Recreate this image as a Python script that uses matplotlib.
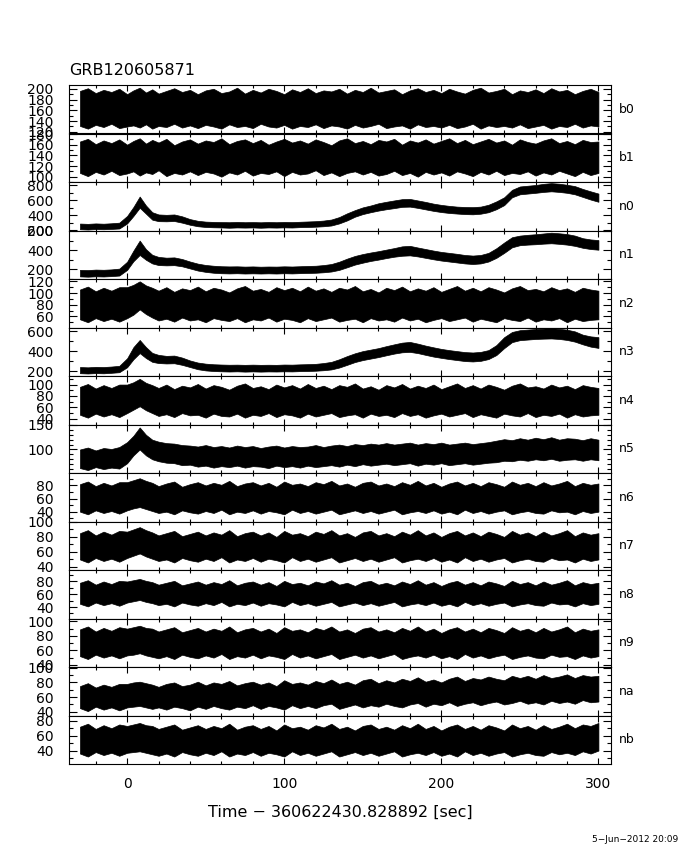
import matplotlib
matplotlib.use("Agg")
import matplotlib.pyplot as plt
from matplotlib.ticker import MultipleLocator

T = [-30, -25, -20, -15, -10, -5, 0, 4, 8, 12,
     16, 20, 25, 30, 35, 40, 45, 50, 55, 60,
     65, 70, 75, 80, 85, 90, 95, 100, 105, 110,
     115, 120, 125, 130, 135, 140, 145, 150, 155, 160,
     165, 170, 175, 180, 185, 190, 195, 200, 205, 210,
     215, 220, 225, 230, 235, 240, 245, 250, 255, 260,
     265, 270, 275, 280, 285, 290, 295, 300]

detectors = ['b0', 'b1', 'n0', 'n1', 'n2', 'n3', 'n4', 'n5', 'n6', 'n7', 'n8', 'n9', 'na', 'nb']

# lower / upper edge of the black count-rate band for each detector
b0_lo = [131, 126, 133, 129, 135, 127, 130, 132, 128, 134,
         126, 131, 129, 135, 128, 132, 127, 133, 130, 126,
         134, 129, 131, 127, 135, 130, 128, 133, 126, 131,
         129, 134, 127, 132, 130, 126, 133, 128, 131, 135,
         127, 130, 132, 126, 134, 129, 131, 128, 133, 127,
         130, 135, 126, 132, 129, 131, 128, 134, 127, 130,
         133, 126, 131, 129, 135, 128, 132, 130]
b0_hi = [196, 201, 192, 198, 194, 200, 190, 197, 202, 193,
         199, 191, 196, 201, 194, 198, 190, 197, 200, 192,
         195, 202, 191, 198, 193, 200, 196, 190, 199, 194,
         201, 192, 197, 195, 200, 191, 198, 194, 202, 193,
         196, 199, 190, 197, 201, 194, 198, 192, 200, 195,
         191, 198, 202, 193, 196, 200, 190, 197, 194, 199,
         192, 201, 195, 198, 190, 196, 200, 194]
b1_lo = [107, 101, 109, 104, 111, 103, 106, 110, 102, 108,
         105, 112, 101, 107, 104, 110, 103, 109, 106, 100,
         108, 104, 111, 102, 107, 105, 110, 101, 109, 104,
         106, 112, 103, 108, 101, 107, 110, 104, 109, 102,
         105, 111, 103, 107, 100, 109, 104, 108, 102, 110,
         106, 101, 109, 104, 111, 103, 107, 105, 110, 102,
         108, 104, 111, 106, 101, 109, 103, 107]
b1_hi = [166, 171, 161, 168, 163, 170, 160, 167, 172, 162,
         169, 164, 171, 159, 166, 170, 162, 168, 165, 172,
         161, 167, 170, 163, 169, 160, 166, 171, 164, 168,
         162, 170, 165, 159, 168, 172, 163, 167, 161, 169,
         166, 171, 160, 168, 164, 170, 162, 167, 172, 163,
         169, 161, 166, 171, 164, 168, 160, 170, 165, 162,
         168, 172, 163, 167, 161, 169, 165, 166]
n0_lo = [212, 208, 214, 212, 216, 222, 290, 390, 500, 420,
         340, 320, 318, 322, 300, 272, 252, 242, 238, 236,
         232, 236, 234, 236, 232, 236, 234, 237, 235, 240,
         242, 246, 252, 262, 290, 330, 380, 415, 440, 462,
         480, 495, 512, 515, 498, 478, 458, 442, 430, 422,
         415, 412, 420, 440, 480, 535, 640, 680, 690, 700,
         712, 720, 712, 700, 680, 645, 610, 580]
n0_hi = [288, 284, 290, 286, 292, 300, 390, 510, 650, 530,
         440, 410, 405, 410, 385, 348, 325, 314, 310, 308,
         306, 310, 306, 308, 305, 309, 306, 310, 308, 312,
         316, 320, 328, 342, 375, 425, 468, 505, 530, 560,
         580, 598, 615, 618, 598, 578, 555, 538, 525, 515,
         510, 508, 515, 540, 585, 640, 740, 785, 795, 805,
         820, 830, 822, 808, 790, 752, 720, 690]
n1_lo = [127, 124, 128, 126, 130, 136, 195, 285, 350, 300,
         262, 245, 242, 244, 232, 210, 188, 174, 165, 160,
         158, 160, 157, 159, 157, 159, 157, 160, 158, 161,
         163, 165, 170, 178, 195, 222, 250, 270, 288, 302,
         318, 332, 342, 346, 335, 320, 305, 292, 282, 272,
         262, 256, 262, 282, 320, 372, 430, 452, 458, 462,
         468, 472, 466, 458, 445, 425, 412, 405]
n1_hi = [195, 193, 198, 196, 200, 208, 280, 395, 500, 410,
         352, 330, 322, 325, 308, 282, 260, 246, 238, 233,
         231, 232, 229, 231, 228, 230, 229, 232, 230, 233,
         236, 238, 245, 256, 280, 312, 340, 360, 376, 390,
         406, 422, 440, 445, 428, 412, 396, 382, 372, 362,
         350, 344, 350, 372, 420, 480, 535, 552, 560, 566,
         574, 582, 576, 568, 552, 525, 512, 505]
n2_lo = [55, 50, 57, 52, 56, 51, 57, 63, 72, 64,
         58, 53, 56, 51, 58, 53, 55, 50, 57, 54,
         52, 57, 50, 55, 53, 58, 51, 56, 54, 50,
         57, 52, 55, 58, 51, 54, 56, 50, 57, 53,
         55, 51, 58, 53, 56, 50, 54, 57, 52, 55,
         58, 51, 56, 53, 50, 57, 54, 52, 58, 51,
         55, 53, 57, 50, 56, 52, 54, 55]
n2_hi = [106, 111, 103, 109, 104, 110, 110, 114, 120, 113,
         109, 104, 110, 102, 108, 105, 111, 103, 109, 106,
         101, 108, 112, 104, 107, 102, 110, 105, 109, 103,
         111, 104, 108, 102, 109, 106, 112, 103, 107, 101,
         109, 105, 111, 103, 108, 104, 110, 102, 107, 112,
         104, 109, 103, 110, 106, 101, 108, 112, 105, 107,
         103, 110, 105, 108, 102, 109, 106, 104]
n3_lo = [178, 175, 179, 177, 182, 188, 238, 318, 380, 330,
         292, 280, 276, 278, 262, 240, 218, 206, 200, 197,
         195, 197, 194, 196, 194, 196, 195, 197, 196, 199,
         200, 203, 208, 216, 235, 262, 290, 310, 325, 340,
         358, 375, 388, 392, 380, 362, 345, 332, 320, 310,
         300, 296, 302, 320, 360, 430, 490, 510, 516, 522,
         525, 527, 522, 512, 495, 468, 445, 432]
n3_hi = [240, 237, 242, 240, 245, 252, 328, 440, 512, 440,
         382, 362, 352, 355, 335, 306, 285, 274, 268, 265,
         263, 264, 262, 264, 262, 263, 262, 265, 264, 267,
         269, 272, 280, 292, 318, 350, 378, 400, 415, 430,
         450, 468, 485, 492, 475, 455, 438, 422, 410, 400,
         390, 386, 392, 410, 460, 540, 592, 610, 616, 622,
         626, 630, 624, 615, 598, 565, 548, 540]
n4_lo = [47, 42, 49, 44, 48, 43, 50, 56, 62, 55,
         50, 45, 48, 43, 50, 46, 47, 42, 49, 45,
         44, 49, 42, 47, 45, 50, 43, 48, 46, 42,
         49, 44, 47, 50, 43, 46, 48, 42, 49, 45,
         47, 43, 50, 45, 48, 42, 46, 49, 44, 47,
         50, 43, 48, 45, 42, 49, 46, 44, 50, 43,
         47, 45, 49, 42, 48, 44, 46, 47]
n4_hi = [96, 101, 93, 99, 94, 100, 100, 104, 110, 103,
         99, 94, 100, 92, 98, 95, 101, 93, 99, 96,
         91, 98, 102, 94, 97, 92, 100, 95, 99, 93,
         101, 94, 98, 92, 99, 96, 102, 93, 97, 91,
         99, 95, 101, 93, 98, 94, 100, 92, 97, 102,
         94, 99, 93, 100, 96, 91, 98, 102, 95, 97,
         93, 100, 95, 98, 92, 99, 96, 94]
n5_lo = [62, 58, 64, 60, 63, 61, 72, 88, 100, 88,
         80, 76, 73, 72, 68, 69, 65, 67, 63, 66,
         64, 67, 63, 66, 65, 62, 67, 64, 66, 63,
         67, 64, 66, 68, 65, 69, 66, 70, 67, 69,
         71, 68, 70, 72, 67, 71, 69, 72, 68, 70,
         72, 69, 71, 73, 74, 77, 76, 79, 77, 80,
         78, 81, 77, 79, 80, 77, 80, 78]
n5_hi = [100, 104, 98, 103, 101, 105, 115, 128, 145, 130,
         120, 116, 113, 112, 109, 108, 106, 109, 105, 107,
         104, 108, 105, 107, 103, 106, 108, 104, 107, 105,
         106, 109, 105, 108, 110, 107, 111, 109, 112, 110,
         113, 110, 112, 114, 110, 113, 111, 114, 110, 112,
         114, 111, 113, 115, 118, 121, 119, 123, 120, 124,
         121, 125, 120, 123, 122, 119, 123, 120]
n6_lo = [40, 36, 42, 38, 41, 37, 42, 45, 47, 44,
         41, 38, 40, 36, 42, 39, 37, 41, 38, 43,
         36, 40, 38, 42, 37, 41, 39, 36, 43, 38,
         41, 37, 40, 43, 36, 39, 42, 38, 41, 37,
         40, 43, 36, 39, 41, 38, 42, 37, 40, 36,
         43, 38, 41, 37, 40, 42, 36, 39, 41, 38,
         37, 42, 39, 40, 36, 41, 38, 40]
n6_hi = [82, 86, 79, 84, 80, 85, 85, 88, 91, 87,
         84, 79, 83, 86, 78, 82, 85, 80, 84, 81,
         87, 79, 83, 85, 80, 84, 78, 86, 81, 83,
         79, 85, 82, 87, 80, 83, 78, 84, 86, 80,
         83, 79, 85, 81, 87, 80, 84, 78, 83, 86,
         80, 84, 79, 85, 82, 78, 86, 81, 84, 79,
         85, 80, 83, 87, 79, 84, 81, 83]
n7_lo = [50, 46, 52, 48, 51, 47, 52, 55, 58, 54,
         51, 48, 50, 46, 52, 49, 47, 51, 48, 53,
         46, 50, 48, 52, 47, 51, 49, 46, 53, 48,
         51, 47, 50, 53, 46, 49, 52, 48, 51, 47,
         50, 53, 46, 49, 51, 48, 52, 47, 50, 46,
         53, 48, 51, 47, 50, 52, 46, 49, 51, 48,
         47, 52, 49, 50, 46, 51, 48, 50]
n7_hi = [85, 89, 82, 87, 83, 88, 87, 90, 93, 89,
         86, 82, 85, 88, 81, 84, 87, 82, 86, 83,
         89, 81, 85, 87, 82, 86, 80, 88, 83, 85,
         81, 87, 84, 89, 82, 85, 80, 86, 88, 82,
         85, 81, 87, 83, 89, 82, 86, 80, 85, 88,
         82, 86, 81, 87, 84, 80, 88, 83, 86, 81,
         87, 82, 85, 89, 81, 86, 83, 85]
n8_lo = [45, 41, 47, 43, 46, 42, 47, 49, 51, 48,
         46, 43, 45, 41, 47, 44, 42, 46, 43, 48,
         41, 45, 43, 47, 42, 46, 44, 41, 48, 43,
         46, 42, 45, 48, 41, 44, 47, 43, 46, 42,
         45, 48, 41, 44, 46, 43, 47, 42, 45, 41,
         48, 43, 46, 42, 45, 47, 41, 44, 46, 43,
         42, 47, 44, 45, 41, 46, 43, 45]
n8_hi = [78, 82, 75, 80, 76, 81, 80, 82, 84, 81,
         79, 75, 78, 81, 74, 77, 80, 75, 79, 76,
         82, 74, 78, 80, 75, 79, 73, 81, 76, 78,
         74, 80, 77, 82, 75, 78, 73, 79, 81, 75,
         78, 74, 80, 76, 82, 75, 79, 73, 78, 81,
         75, 79, 74, 80, 77, 73, 81, 76, 79, 74,
         80, 75, 78, 82, 74, 79, 76, 78]
n9_lo = [52, 48, 54, 50, 53, 49, 53, 54, 56, 53,
         51, 49, 52, 48, 54, 51, 49, 53, 50, 55,
         48, 52, 50, 54, 49, 53, 51, 48, 55, 50,
         53, 49, 52, 55, 48, 51, 54, 50, 53, 49,
         52, 55, 48, 51, 53, 50, 54, 49, 52, 48,
         55, 50, 53, 49, 52, 54, 48, 51, 53, 50,
         49, 54, 51, 52, 48, 53, 50, 52]
n9_hi = [89, 93, 86, 91, 87, 92, 90, 92, 94, 91,
         90, 86, 89, 92, 85, 88, 91, 86, 90, 87,
         93, 85, 89, 91, 86, 90, 84, 92, 87, 89,
         85, 91, 88, 93, 86, 89, 84, 90, 92, 86,
         89, 85, 91, 87, 93, 86, 90, 84, 89, 92,
         86, 90, 85, 91, 88, 84, 92, 87, 90, 85,
         91, 86, 89, 93, 85, 90, 87, 89]
na_lo = [45, 41, 47, 43, 46, 42, 46, 47, 48, 46,
         44, 46, 43, 47, 45, 42, 47, 44, 48, 45,
         43, 47, 45, 49, 44, 48, 46, 43, 49, 45,
         48, 45, 49, 51, 44, 47, 50, 46, 49, 47,
         51, 48, 46, 50, 52, 47, 51, 49, 53, 48,
         51, 53, 49, 52, 54, 50, 52, 55, 51, 53,
         50, 55, 52, 54, 51, 56, 53, 54]
na_hi = [75, 79, 73, 77, 74, 78, 78, 80, 81, 79,
         77, 74, 78, 80, 75, 77, 81, 76, 80, 78,
         82, 76, 79, 81, 77, 80, 75, 83, 78, 80,
         77, 82, 79, 84, 78, 81, 77, 83, 85, 79,
         83, 80, 85, 82, 87, 81, 84, 80, 85, 88,
         82, 86, 84, 88, 85, 83, 89, 86, 89, 85,
         90, 86, 88, 91, 86, 90, 88, 89]
nb_lo = [36, 32, 38, 34, 37, 33, 37, 38, 39, 37,
         35, 33, 36, 32, 38, 35, 33, 37, 34, 39,
         32, 36, 34, 38, 33, 37, 35, 32, 39, 34,
         37, 33, 36, 39, 32, 35, 38, 34, 37, 33,
         36, 39, 32, 35, 37, 34, 38, 33, 36, 32,
         39, 34, 37, 33, 36, 38, 32, 35, 37, 34,
         33, 38, 35, 37, 34, 39, 36, 40]
nb_hi = [72, 76, 69, 74, 70, 75, 73, 75, 77, 74,
         73, 69, 72, 75, 68, 71, 74, 69, 73, 70,
         76, 68, 72, 74, 69, 73, 67, 75, 70, 72,
         68, 74, 71, 76, 69, 72, 67, 73, 75, 69,
         72, 68, 74, 70, 76, 69, 73, 67, 72, 75,
         69, 73, 68, 74, 71, 67, 75, 70, 73, 68,
         74, 69, 72, 76, 70, 75, 73, 77]

lows = [b0_lo, b1_lo, n0_lo, n1_lo, n2_lo, n3_lo, n4_lo, n5_lo, n6_lo, n7_lo, n8_lo, n9_lo, na_lo, nb_lo]
highs = [b0_hi, b1_hi, n0_hi, n1_hi, n2_hi, n3_hi, n4_hi, n5_hi, n6_hi, n7_hi, n8_hi, n9_hi, na_hi, nb_hi]

# y limits and (major, minor) tick steps per panel
ylims = [(117, 207), (90, 181), (195, 845), (100, 605), (41, 124), (150, 637), (30, 115),
         (52, 151), (25, 99), (36, 100.5), (22, 98), (37, 104), (35, 101), (22, 87)]
ysteps = [(20, 10), (20, 10), (200, 100), (200, 100), (20, 10), (200, 100), (20, 10),
          (50, 10), (20, 10), (20, 10), (20, 10), (20, 10), (20, 10), (20, 10)]

fig = plt.figure(figsize=(6.8, 8.5), dpi=100)
left, right, top, bottom = 69 / 680, 611 / 680, 1 - 85 / 850, 1 - 764 / 850
h = (top - bottom) / len(detectors)

for i, name in enumerate(detectors):
    ax = fig.add_axes([left, top - (i + 1) * h, right - left, h])
    ax.fill_between(T, lows[i], highs[i], color='black', lw=0.5)
    ax.set_xlim(-37, 308)
    ax.set_ylim(*ylims[i])
    ax.xaxis.set_major_locator(MultipleLocator(100))
    ax.xaxis.set_minor_locator(MultipleLocator(20))
    ax.yaxis.set_major_locator(MultipleLocator(ysteps[i][0]))
    ax.yaxis.set_minor_locator(MultipleLocator(ysteps[i][1]))
    ax.tick_params(which='both', direction='in', top=True, right=True, width=0.8,
                   labelsize=10, color='black')
    ax.tick_params(axis='y', which='major', length=6, pad=11)
    ax.tick_params(axis='y', which='minor', length=3)
    ax.tick_params(axis='x', which='major', length=4.5, pad=9)
    ax.tick_params(axis='x', which='minor', length=2.5)
    for sp in ax.spines.values():
        sp.set_linewidth(0.8)
    if i < len(detectors) - 1:
        ax.tick_params(axis='x', labelbottom=False)
    ax.text(1.015, 0.5, name, transform=ax.transAxes, va='center', ha='left', fontsize=9)
    if i == 0:
        ax.text(0, 1.2, 'GRB120605871', transform=ax.transAxes, ha='left', va='baseline', fontsize=11.5)

fig.text(0.5, 1 - 812 / 850, 'Time \u2212 360622430.828892 [sec]', ha='center', va='center', fontsize=11.5)
fig.text(678 / 680, 1 - 840 / 850, '5\u2212Jun\u22122012 20:09', ha='right', va='center', fontsize=6.5)

fig.savefig('out.png', dpi=100)
